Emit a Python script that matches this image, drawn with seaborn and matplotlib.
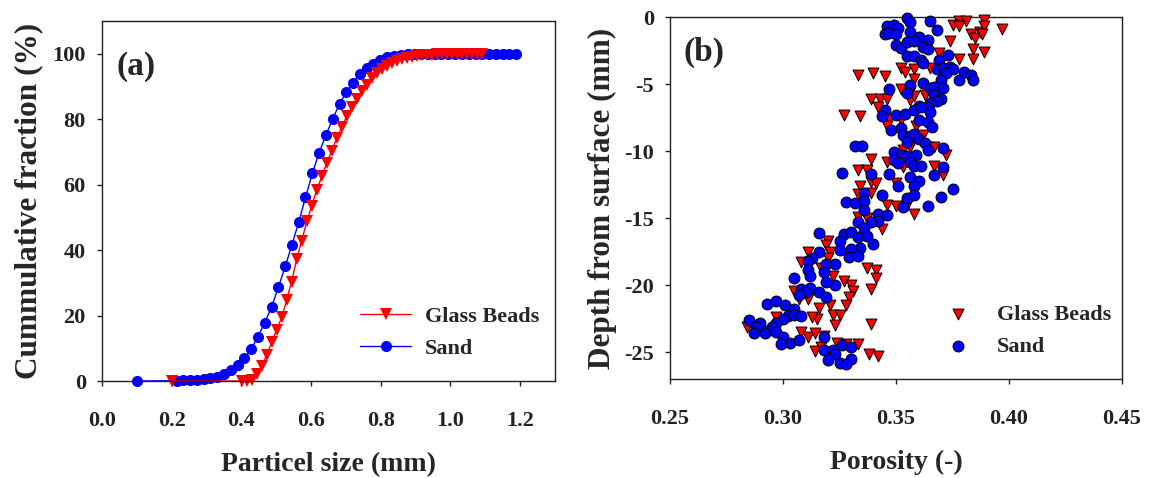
import matplotlib
matplotlib.use("Agg")
import matplotlib.pyplot as plt
import seaborn as sns

# ---- (a) cumulative particle size distributions ----
sand_size = [0.100, 0.214, 0.233, 0.253, 0.272, 0.292, 0.311, 0.331, 0.350, 0.370,
             0.389, 0.409, 0.428, 0.448, 0.467, 0.487, 0.506, 0.526, 0.545, 0.565,
             0.584, 0.604, 0.623, 0.643, 0.662, 0.682, 0.701, 0.721, 0.740, 0.760,
             0.779, 0.799, 0.818, 0.838, 0.857, 0.877, 0.896, 0.916, 0.935, 0.955,
             0.974, 0.994, 1.013, 1.033, 1.052, 1.072, 1.091, 1.111, 1.130, 1.150,
             1.169, 1.189]
sand_cum = [0.0, 0.1, 0.2, 0.3, 0.4, 0.5, 0.8, 1.3, 2.1, 3.4,
            4.9, 6.9, 9.7, 13.6, 17.8, 22.7, 28.6, 35.0, 41.6, 48.7,
            56.1, 63.5, 69.8, 75.2, 80.1, 84.7, 88.3, 91.2, 93.8, 95.6,
            96.9, 98.2, 98.9, 99.4, 99.7, 99.8, 99.9, 100.0, 100.0, 100.0,
            100.0, 100.0, 100.0, 100.0, 100.0, 100.0, 100.0, 100.0, 100.0, 100.0,
            100.0, 100.0]

glass_size = [0.200, 0.401, 0.415, 0.430, 0.444, 0.458, 0.473, 0.487, 0.501, 0.516,
              0.530, 0.544, 0.559, 0.573, 0.588, 0.602, 0.616, 0.631, 0.645, 0.659,
              0.674, 0.688, 0.702, 0.717, 0.731, 0.746, 0.760, 0.774, 0.789, 0.803,
              0.817, 0.832, 0.846, 0.860, 0.875, 0.889, 0.903, 0.918, 0.932, 0.947,
              0.961, 0.975, 0.990, 1.004, 1.018, 1.033, 1.047, 1.061, 1.076, 1.090]
glass_cum = [0.0, 0.0, 0.0, 0.3, 2.0, 4.5, 8.0, 11.8, 15.6, 19.5,
             24.7, 30.4, 37.3, 42.8, 48.8, 53.5, 58.4, 62.5, 66.6, 70.3,
             74.3, 77.6, 80.9, 83.6, 86.1, 88.7, 90.6, 92.5, 94.1, 95.3,
             96.2, 97.1, 97.8, 98.4, 98.8, 99.1, 99.3, 99.5, 99.6, 99.7,
             99.8, 99.8, 99.9, 99.9, 99.9, 100.0, 100.0, 100.0, 100.0, 100.0]

# ---- (b) porosity profiles ----
glass_porosity = [
    0.378, 0.381, 0.389, 0.375, 0.378, 0.383, 0.385, 0.387, 0.389, 0.388,
    0.397, 0.374, 0.384, 0.389, 0.384, 0.378, 0.369, 0.352, 0.354, 0.358,
    0.365, 0.333, 0.340, 0.345, 0.358, 0.352, 0.356, 0.339, 0.343, 0.346,
    0.342, 0.356, 0.358, 0.363, 0.327, 0.334, 0.347, 0.352, 0.346, 0.359,
    0.362, 0.364, 0.367, 0.372, 0.356, 0.353, 0.339, 0.346, 0.353, 0.367,
    0.371, 0.333, 0.337, 0.334, 0.339, 0.341, 0.350,
    0.333, 0.339, 0.346, 0.350, 0.355, 0.358, 0.337, 0.333, 0.344, 0.320,
    0.319, 0.321, 0.311, 0.308, 0.320, 0.317, 0.322, 0.337, 0.341, 0.341,
    0.339, 0.327, 0.330, 0.331, 0.329, 0.328, 0.316, 0.321, 0.315, 0.322,
    0.325, 0.323, 0.339, 0.313, 0.307, 0.311, 0.305, 0.284, 0.297, 0.308,
    0.311, 0.314, 0.318, 0.324, 0.328, 0.333, 0.338, 0.342, 0.314, 0.317]
glass_depth = [
    -0.3, -0.3, -0.2, -0.6, -0.7, -1.3, -1.6, -1.1, -0.7, -1.3,
    -0.9, -1.8, -2.4, -2.6, -3.1, -3.1, -2.7, -3.8, -4.1, -3.9,
    -3.8, -4.3, -4.2, -4.4, -4.6, -5.4, -5.6, -6.1, -6.1, -6.1,
    -6.7, -6.2, -5.9, -5.8, -7.3, -7.4, -7.6, -7.7, -8.1, -8.1,
    -8.8, -9.7, -9.7, -10.3, -9.7, -9.9, -10.6, -10.8, -11.2, -11.1,
    -11.8, -11.4, -11.4, -12.6, -12.3, -12.4, -12.4,
    -13.2, -13.1, -14.0, -14.1, -14.0, -14.7, -15.0, -14.9, -15.8, -16.7,
    -17.0, -17.5, -17.5, -18.3, -18.0, -18.7, -19.3, -18.7, -18.9, -19.5,
    -20.3, -19.7, -20.0, -20.4, -20.9, -21.5, -21.7, -21.5, -22.5, -22.2,
    -22.2, -23.0, -22.9, -22.4, -21.0, -21.0, -20.4, -23.1, -22.4, -23.5,
    -23.9, -23.6, -23.8, -24.3, -24.4, -24.4, -25.1, -25.3, -24.9, -24.6]

sand_porosity = [
    0.355, 0.356, 0.346, 0.349, 0.351, 0.345, 0.347, 0.350, 0.356, 0.360,
    0.364, 0.365, 0.368, 0.350, 0.352, 0.355, 0.358, 0.362, 0.364, 0.355,
    0.358, 0.361, 0.362, 0.369, 0.373, 0.368, 0.371, 0.374, 0.375, 0.380,
    0.383, 0.384, 0.378, 0.372, 0.370, 0.356, 0.347, 0.362, 0.365, 0.367,
    0.371, 0.367, 0.370, 0.368, 0.365, 0.364, 0.360, 0.355, 0.345, 0.344,
    0.350, 0.354, 0.358, 0.361, 0.365, 0.360, 0.364, 0.366, 0.348, 0.352,
    0.353, 0.356, 0.358, 0.355, 0.360, 0.363, 0.364, 0.371, 0.349, 0.352,
    0.355, 0.359, 0.349, 0.351, 0.356, 0.358, 0.361, 0.371, 0.367, 0.332,
    0.335, 0.326, 0.339, 0.347, 0.356, 0.360, 0.358, 0.351, 0.375,
    0.328, 0.332, 0.336, 0.336, 0.344, 0.355, 0.358, 0.370, 0.364, 0.353,
    0.336, 0.342, 0.346, 0.342, 0.339, 0.333, 0.336, 0.316, 0.327, 0.330,
    0.325, 0.333, 0.337, 0.340, 0.334, 0.330, 0.325, 0.329, 0.333, 0.316,
    0.313, 0.311, 0.319, 0.323, 0.318, 0.311, 0.312, 0.305, 0.323, 0.319,
    0.308, 0.312, 0.316, 0.319, 0.310, 0.307, 0.293, 0.297, 0.301, 0.305,
    0.302, 0.305, 0.308, 0.300, 0.297, 0.295, 0.293, 0.290, 0.285, 0.288,
    0.287, 0.292, 0.297, 0.300, 0.303, 0.299, 0.307, 0.318, 0.318, 0.322,
    0.326, 0.330, 0.323, 0.320, 0.325, 0.330, 0.328]
sand_depth = [
    -0.1, -0.4, -0.7, -0.6, -0.8, -1.3, -1.2, -1.3, -1.1, -1.5,
    -1.7, -0.3, -1.0, -2.1, -2.3, -1.9, -1.8, -2.2, -2.4, -2.9,
    -2.9, -3.2, -3.4, -3.2, -2.8, -3.9, -3.8, -3.7, -3.9, -4.1,
    -4.3, -4.7, -4.7, -4.2, -4.7, -5.1, -5.4, -4.9, -5.3, -5.2,
    -5.3, -5.8, -6.1, -6.3, -6.4, -6.7, -6.6, -5.7, -6.9, -7.4,
    -7.3, -7.2, -6.9, -6.7, -7.1, -7.7, -7.8, -8.2, -8.4, -8.3,
    -8.8, -8.9, -8.7, -9.3, -9.1, -9.4, -9.9, -9.8, -10.1, -10.3,
    -10.4, -10.3, -10.7, -10.9, -10.8, -11.1, -11.1, -11.2, -11.8, -9.6,
    -9.6, -11.6, -11.7, -11.7, -11.9, -12.2, -12.6, -12.6, -12.8,
    -13.8, -13.9, -13.1, -13.7, -13.3, -13.5, -13.3, -13.4, -14.1, -14.2,
    -14.4, -14.7, -14.8, -15.2, -15.3, -15.3, -15.7, -16.1, -16.2, -16.0,
    -16.7, -16.4, -16.3, -16.9, -17.2, -17.3, -17.4, -17.9, -17.8, -17.5,
    -18.0, -18.2, -18.4, -18.4, -19.0, -18.9, -19.3, -19.5, -20.0, -19.8,
    -20.3, -20.2, -20.5, -20.9, -20.5, -20.7, -21.4, -21.2, -21.5, -21.8,
    -22.3, -22.2, -22.3, -22.5, -22.8, -23.1, -23.4, -22.8, -22.6, -23.1,
    -23.6, -23.6, -23.5, -23.9, -24.3, -24.4, -24.1, -23.9, -24.8, -24.8,
    -24.5, -24.6, -25.1, -25.6, -25.8, -25.5, -25.9]

size_ticks = [0.0, 0.2, 0.4, 0.6, 0.8, 1.0, 1.2]
size_tick_labels = ["0.0", "0.2", "0.4", "0.6", "0.8", "1.0", "1.2"]
frac_ticks = [0, 20, 40, 60, 80, 100]
poro_ticks = [0.25, 0.30, 0.35, 0.40, 0.45]
poro_tick_labels = ["0.25", "0.30", "0.35", "0.40", "0.45"]
depth_ticks = [0, -5, -10, -15, -20, -25]
depth_tick_labels = ["0", "-5", "-10", "-15", "-20", "-25"]

sns.set_theme(style="ticks")
plt.rcParams.update({
    "font.family": ["Liberation Serif", "DejaVu Serif"],
    "font.weight": "bold",
    "axes.labelweight": "bold",
    "axes.unicode_minus": False,
    "axes.edgecolor": "#222222",
    "axes.linewidth": 1.0,
    "xtick.color": "#222222",
    "ytick.color": "#222222",
})

TICK_FS = 16
XLABEL_FS = 20
YLABEL_FS = 22.5
LEGEND_FS = 16
PANEL_FS = 24

fig = plt.figure(figsize=(11.56, 4.78), dpi=100)
ax_a = fig.add_axes([0.0882, 0.2029, 0.3919, 0.7531])
ax_b = fig.add_axes([0.5796, 0.2071, 0.3910, 0.7573])

# (a) cumulative curves, sand underneath the glass beads
sns.lineplot(x=sand_size, y=sand_cum, ax=ax_a, color="blue", marker="o",
             markersize=8, markeredgecolor="blue", markeredgewidth=0,
             linewidth=1.0, label="Sand", errorbar=None, clip_on=False)
sns.lineplot(x=glass_size, y=glass_cum, ax=ax_a, color="red", marker="v",
             markersize=9, markeredgecolor="red", markeredgewidth=0,
             linewidth=1.0, label="Glass Beads", errorbar=None, clip_on=False)

ax_a.set_xlim(0, 1.3)
ax_a.set_ylim(0, 110)
ax_a.set_xticks(size_ticks)
ax_a.set_xticklabels(size_tick_labels)
ax_a.set_yticks(frac_ticks)
ax_a.set_xlabel("Particel size (mm)", fontsize=XLABEL_FS, labelpad=15)
ax_a.set_ylabel("Cummulative fraction (%)", fontsize=YLABEL_FS, labelpad=7)
ax_a.text(0.075, 0.875, "(a)", transform=ax_a.transAxes, fontsize=PANEL_FS,
          fontweight="bold", ha="center", va="center")

handles, labels = ax_a.get_legend_handles_labels()
order = [labels.index("Glass Beads"), labels.index("Sand")]
ax_a.legend([handles[i] for i in order], [labels[i] for i in order],
            loc="center left", bbox_to_anchor=(0.57, 0.135), frameon=False,
            fontsize=LEGEND_FS, handlelength=2.3, handletextpad=0.6,
            labelspacing=0.5, borderpad=0, borderaxespad=0)

# (b) porosity versus depth
sns.scatterplot(x=glass_porosity, y=glass_depth, ax=ax_b, marker="v", color="red",
                edgecolor="black", linewidth=0.7, s=62, label="Glass Beads",
                clip_on=False, zorder=3)
sns.scatterplot(x=sand_porosity, y=sand_depth, ax=ax_b, marker="o", color="blue",
                edgecolor="black", linewidth=0.7, s=62, label="Sand",
                clip_on=False, zorder=4)

ax_b.set_xlim(0.25, 0.45)
ax_b.set_ylim(-27, 0)
ax_b.set_xticks(poro_ticks)
ax_b.set_xticklabels(poro_tick_labels)
ax_b.set_yticks(depth_ticks)
ax_b.set_yticklabels(depth_tick_labels)
ax_b.set_xlabel("Porosity (-)", fontsize=XLABEL_FS, labelpad=15)
ax_b.set_ylabel("Depth from surface (mm)", fontsize=YLABEL_FS, labelpad=5)
ax_b.text(0.075, 0.903, "(b)", transform=ax_b.transAxes, fontsize=PANEL_FS,
          fontweight="bold", ha="center", va="center")
ax_b.legend(loc="center left", bbox_to_anchor=(0.588, 0.133), frameon=False,
            fontsize=LEGEND_FS, handlelength=2.0, handletextpad=0.75,
            labelspacing=0.5, borderpad=0, borderaxespad=0, scatterpoints=1)

for ax in (ax_a, ax_b):
    for side in ("top", "right", "left", "bottom"):
        ax.spines[side].set_visible(True)
    ax.tick_params(axis="both", which="major", direction="out", length=3.6,
                   width=1.0, labelsize=TICK_FS, top=False, right=False)
    ax.tick_params(axis="x", pad=18)
    ax.tick_params(axis="y", pad=8)
    for lab in ax.get_xticklabels() + ax.get_yticklabels():
        lab.set_fontweight("bold")

fig.savefig("out.png", dpi=100)
